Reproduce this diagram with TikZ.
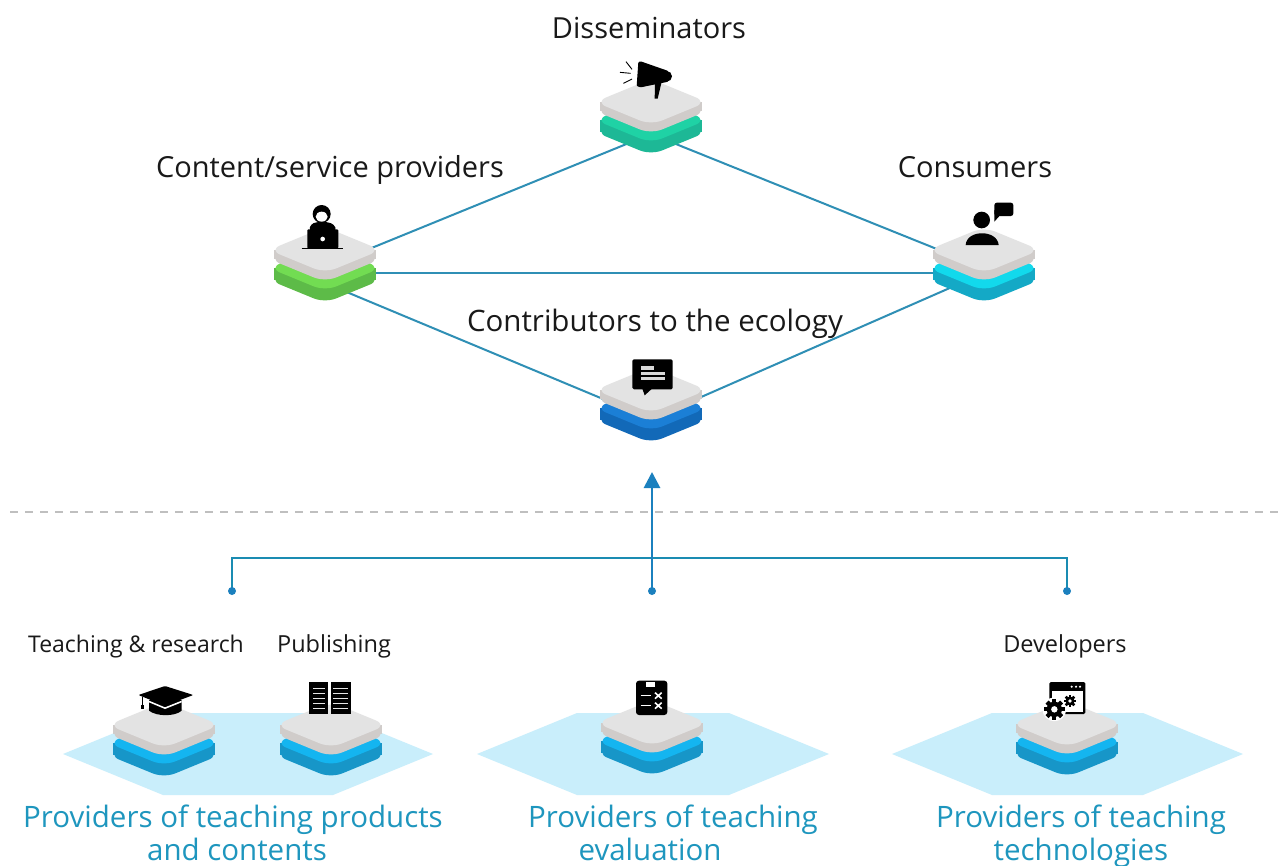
\documentclass[tikz,border=0pt]{standalone}
\usepackage{fontspec}
\setmainfont{Open Sans}
\usetikzlibrary{arrows.meta}
\definecolor{link}{HTML}{2F8FB5}
\definecolor{stem}{HTML}{1B80BE}
\definecolor{branch}{HTML}{1A8CB2}
\definecolor{hexc}{HTML}{C9EEFB}
\definecolor{face}{HTML}{E3E3E3}
\definecolor{faceside}{HTML}{D0CCCA}
\definecolor{bluet}{HTML}{1E96BE}
\definecolor{tealband}{HTML}{1FD2A5}
\definecolor{tealside}{HTML}{1DB896}
\definecolor{greenband}{HTML}{72DC52}
\definecolor{greenside}{HTML}{5DBB48}
\definecolor{cyanband}{HTML}{12D9EC}
\definecolor{cyanside}{HTML}{14A9C6}
\definecolor{navyband}{HTML}{1B7FD6}
\definecolor{navyside}{HTML}{1269B8}
\definecolor{skyband}{HTML}{14B5F0}
\definecolor{skyside}{HTML}{1796C8}
\tikzset{
  hub/.style={inner sep=0pt,minimum size=0pt},
  linkline/.style={draw=link,line width=2pt},
  branchline/.style={draw=branch,line width=2.4pt},
  headlabel/.style={font=\fontsize{29}{33}\selectfont,text=black!90,inner sep=0pt,anchor=base},
  smalllabel/.style={font=\fontsize{23.5}{27}\selectfont,text=black!90,inner sep=0pt,anchor=base},
  bluelabel/.style={font=\fontsize{29.5}{33}\selectfont,text=bluet,inner sep=0pt,anchor=base},
  hexshape/.style={fill=hexc,draw=none},
  icon/.style={shift={(#1)},x=0.33333pt,y=-0.33333pt},
  slabcorner/.style={rounded corners=12pt},
}
% name, cx, cy, band colour, side colour
\newcommand{\diamondpath}[1]{(-56,#1) -- (0,#1-23) -- (56,#1) -- (0,#1+23) -- cycle}
\newcommand{\blockshape}[5]{%
  \begin{scope}[shift={(#2,#3)}]
    \fill[#5,slabcorner] \diamondpath{30};
    \fill[#5] (-51,18) rectangle (51,30);
    \fill[#4,slabcorner] \diamondpath{18};
    \fill[faceside,slabcorner] \diamondpath{9};
    \fill[faceside] (-51,0) rectangle (51,9);
    \fill[face,slabcorner] \diamondpath{0};
    \node[hub] (#1) at (0,0) {};
  \end{scope}}
\newcommand{\gearshape}[3]{%
  \fill[white] (#1,#2) circle[radius=#3*1.55];
  \foreach \a in {0,45,...,315}{\fill[black,rotate around={\a:(#1,#2)}] (#1-#3*0.28,#2-#3*1.35) rectangle (#1+#3*0.28,#2);}
  \fill[black] (#1,#2) circle[radius=#3];
  \fill[white] (#1,#2) circle[radius=#3*0.42];}
\begin{document}
\begin{tikzpicture}[x=1pt,y=-1pt]
\useasboundingbox (0,0) rectangle (1284,865);
\fill[white] (0,0) rectangle (1284,865);

% hexagons
\fill[hexshape] (63,754) -- (163,713) -- (333,713) -- (433,754) -- (333,795) -- (163,795) -- cycle;
\fill[hexshape] (477,754) -- (577,713) -- (729,713) -- (829,754) -- (729,795) -- (577,795) -- cycle;
\fill[hexshape] (892,754) -- (992,713) -- (1143,713) -- (1243,754) -- (1143,795) -- (992,795) -- cycle;

% dashed separator
\coordinate (sepl) at (10,512);
\coordinate (sepr) at (1284,512);
\draw[draw=black!25,line width=1.3pt,dash pattern=on 8pt off 7pt] (sepl) -- (sepr);

% connector ends
\coordinate (disl) at (651,134);
\coordinate (disr) at (651,134);
\coordinate (provt) at (325,267);
\coordinate (provm) at (325,273);
\coordinate (provb) at (325,283);
\coordinate (const) at (984,268);
\coordinate (consm) at (984,273);
\coordinate (consb) at (984,273);
\coordinate (conl) at (651,419);
\coordinate (conr) at (651,419);

\draw[linkline] (disl) -- (provt);
\draw[linkline] (disr) -- (const);
\draw[linkline] (provm) -- (consm);
\draw[linkline] (provb) -- (conl);
\draw[linkline] (conr) -- (consb);

% blocks
\blockshape{dis}{651}{102}{tealband}{tealside}
\blockshape{prov}{325}{250}{greenband}{greenside}
\blockshape{cons}{984}{250}{cyanband}{cyanside}
\blockshape{contr}{651}{390}{navyband}{navyside}
\blockshape{teach}{164}{725}{skyband}{skyside}
\blockshape{publ}{331}{725}{skyband}{skyside}
\blockshape{evalu}{652}{723}{skyband}{skyside}
\blockshape{devs}{1067}{724}{skyband}{skyside}

% arrow and branches
\coordinate (stemtop) at (652,472);
\coordinate (stembot) at (652,591);
\coordinate (brl) at (232,591);
\coordinate (brr) at (1067,591);
\coordinate (brlt) at (232,558);
\coordinate (brrt) at (1067,558);
\draw[branchline] (brl) -- (brlt) -- (brrt) -- (brr);
\draw[draw=stem,line width=2.8pt,-{Triangle[length=16pt,width=16pt]}] (stembot) -- (stemtop);
\fill[stem] (stembot) circle[radius=4];
\fill[stem] (brl) circle[radius=4];
\fill[stem] (brr) circle[radius=4];

% labels
\node[headlabel] (ldis) at (649,38) {Disseminators};
\node[headlabel] (lprov) at (330,177) {Content/service providers};
\node[headlabel] (lcons) at (975,177) {Consumers};
\node[headlabel,font=\fontsize{29.5}{33}\selectfont] (lcontr) at (655,331) {Contributors to the ecology};
\node[smalllabel,font=\fontsize{23}{27}\selectfont] (lteach) at (136,652) {Teaching \& research};
\node[smalllabel] (lpubl) at (334,652) {Publishing};
\node[smalllabel] (ldevs) at (1065,652) {Developers};
\node[bluelabel] (lpa) at (233,827) {Providers of teaching products};
\node[bluelabel] (lpb) at (237,860) {and contents};
\node[bluelabel] (lpc) at (673,827) {Providers of teaching};
\node[bluelabel] (lpd) at (650,860) {evaluation};
\node[bluelabel] (lpe) at (1081,827) {Providers of teaching};
\node[bluelabel] (lpf) at (1081,860) {technologies};

% megaphone
\begin{scope}[icon={540,40}]
  \fill[black,rounded corners=1pt] (295,66) -- (302,64) -- (385,93) -- (385,125) -- (302,142) -- (290,138) -- cycle;
  \fill[black] (380,109) circle[radius=16];
  \fill[black] (345,125) -- (365,125) -- (353,176) -- (344,176) -- cycle;
  \draw[black,line width=0.9pt] (258,65) -- (276,88) (240,97) -- (272,100) (250,130) -- (276,117);
\end{scope}
% person with laptop
\begin{scope}[icon={250,190}]
  \fill[black] (215,72) circle[radius=27];
  \fill[white] (215,80) ellipse[x radius=18,y radius=15];
  \fill[black,rounded corners=3pt] (177,122) -- (182,103) -- (200,96) -- (232,96) -- (252,103) -- (260,122) -- cycle;
  \fill[black,rounded corners=1pt] (172,118) rectangle (265,175);
  \fill[white] (218,147) circle[radius=7];
  \draw[black,line width=0.8pt] (155,175) -- (280,175);
\end{scope}
% consumer with speech bubble
\begin{scope}[icon={900,190}]
  \fill[black] (245,90) circle[radius=25];
  \fill[black] (197,165) .. controls (200,118) and (292,118) .. (296,165) -- cycle;
  \fill[black,rounded corners=2.5pt] (283,38) rectangle (340,78);
  \fill[black] (283,60) -- (300,76) -- (283,95) -- cycle;
\end{scope}
% comment
\begin{scope}[icon={570,340}]
  \fill[black,rounded corners=1.5pt] (187,58) rectangle (308,148);
  \fill[black] (217,146) -- (224,166) -- (246,146) -- cycle;
  \fill[white!85!black] (213,79) rectangle (253,90);
  \fill[white!85!black] (213,96) rectangle (285,105);
  \fill[white!85!black] (213,111) rectangle (285,120);
\end{scope}
% mortarboard and book
\begin{scope}[icon={50,670}]
  \fill[black] (297,90) -- (297,122) .. controls (320,140) and (375,140) .. (395,122) -- (395,90) -- cycle;
  \fill[white] (297,92) -- (345,112) -- (395,92) -- (395,97) -- (345,117) -- (297,97) -- cycle;
  \fill[black,rounded corners=1pt] (265,75) -- (345,48) -- (430,75) -- (345,107) -- cycle;
  \draw[black,line width=0.8pt] (277,80) -- (277,108);
  \fill[black] (273,105) rectangle (281,117);
  \fill[black] (776,37) rectangle (833,131);
  \fill[black] (843,37) rectangle (902,131);
  \foreach \yy in {55,70,85,100,115}{
    \fill[white!90!black] (788,\yy-2.5) rectangle (826,\yy+2.5);
    \fill[white!90!black] (850,\yy-2.5) rectangle (893,\yy+2.5);
  }
\end{scope}
% evaluation sheet
\begin{scope}[icon={580,670}]
  \fill[black,rounded corners=3pt] (168,32) rectangle (262,135);
  \fill[white] (198,37) rectangle (225,50);
  \draw[white,line width=1.1pt] (182,77) -- (212,77) (182,107) -- (212,107);
  \draw[white,line width=1.6pt] (225,68) -- (245,86) (245,68) -- (225,86) (225,98) -- (245,116) (245,98) -- (225,116);
\end{scope}
% developers window with gears
\begin{scope}[icon={990,670}]
  \fill[black,rounded corners=1.5pt] (178,36) rectangle (286,132);
  \fill[white] (185,63) rectangle (279,125);
  \fill[white] (245,50) circle[radius=3.5] (258,50) circle[radius=3.5] (270,50) circle[radius=3.5];
  \gearshape{193}{118}{23}
  \gearshape{240}{93}{13.5}
\end{scope}
\end{tikzpicture}
\end{document}
